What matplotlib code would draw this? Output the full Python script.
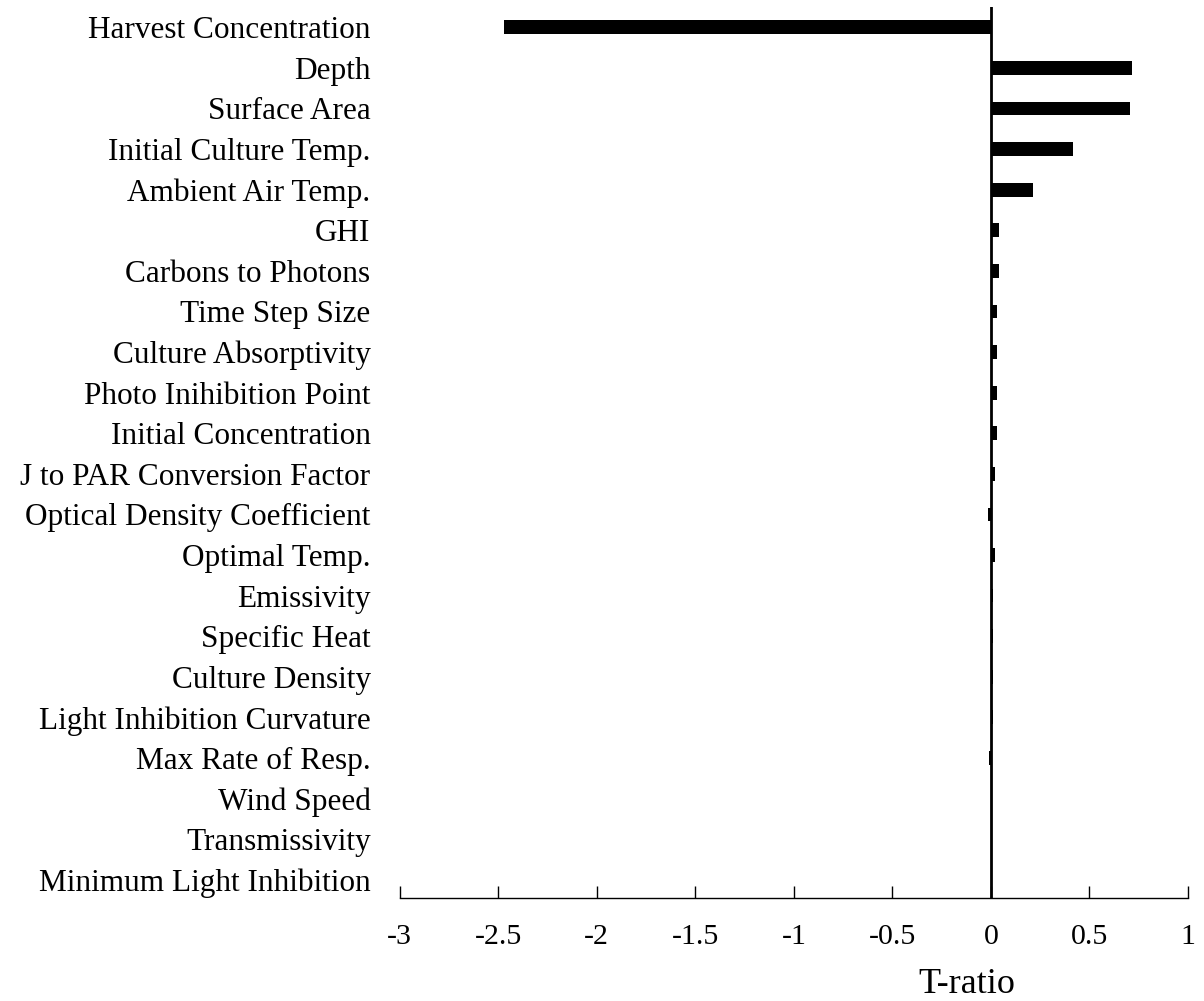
import matplotlib
matplotlib.use("Agg")
import matplotlib.pyplot as plt
import numpy as np

plt.rcParams['font.family'] = ['Liberation Serif', 'DejaVu Serif']

params = ['Harvest Concentration', 'Depth', 'Surface Area', 'Initial Culture Temp.',
          'Ambient Air Temp.', 'GHI', 'Carbons to Photons', 'Time Step Size',
          'Culture Absorptivity', 'Photo Inihibition Point', 'Initial Concentration',
          'J to PAR Conversion Factor', 'Optical Density Coefficient', 'Optimal Temp.',
          'Emissivity', 'Specific Heat', 'Culture Density', 'Light Inhibition Curvature',
          'Max Rate of Resp.', 'Wind Speed', 'Transmissivity', 'Minimum Light Inhibition']
t_ratio = [-2.47, 0.715, 0.705, 0.414, 0.214, 0.042, 0.042, 0.03, 0.03, 0.03, 0.03,
           0.02, -0.017, 0.02, 0.01, 0.01, 0.01, 0.01, -0.008, 0.0, 0.0, 0.0]
xticks = [-3, -2.5, -2, -1.5, -1, -0.5, 0, 0.5, 1]

fig = plt.figure(figsize=(12.04, 10.01), dpi=100)
ax = fig.add_axes([0.332, 0.1029, 0.6547, 0.8901])

y = np.arange(len(params))
ax.barh(y, t_ratio, height=0.34, color='black')
ax.axvline(0, color='black', lw=2)

ax.set_xlim(-3, 1)
ax.set_ylim(21.45, -0.5)
ax.set_yticks(y)
ax.set_yticklabels(params, fontsize=22.5)
ax.tick_params(axis='y', length=0, pad=21)
ax.set_xticks(xticks)
ax.set_xticklabels([f'{v:g}' for v in xticks], fontsize=21.5)
ax.tick_params(axis='x', direction='in', length=9, width=1, pad=18.5)

for s in ['left', 'right', 'top']:
    ax.spines[s].set_visible(False)
ax.spines['bottom'].set_linewidth(1)

ax.set_xlabel('T-ratio', fontsize=26)
ax.xaxis.set_label_coords(0.72, -0.079)

fig.savefig('out.png', dpi=100)
